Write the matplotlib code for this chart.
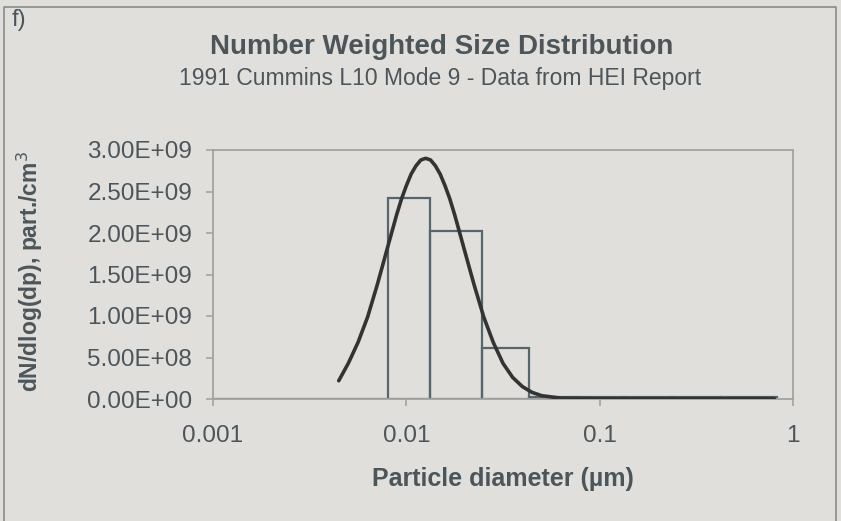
import numpy as np
import matplotlib.pyplot as plt
from matplotlib.ticker import FuncFormatter, NullLocator

plt.rcParams['font.family'] = ['Liberation Sans', 'DejaVu Sans']

# histogram bins (um) and dN/dlog(dp) values
bin_edges = [0.008, 0.0132, 0.0245, 0.043, 0.075, 0.133, 0.237, 0.422, 0.83]
bin_counts = [2.42e9, 2.02e9, 6.1e8, 3.0e7, 2.5e7, 2.5e7, 2.0e7, 2.0e7]

# fitted curve
fit_dp = [0.00447, 0.00501, 0.00562, 0.00631, 0.00708, 0.0075, 0.00794, 0.00841,
          0.00891, 0.00944, 0.0100, 0.01059, 0.01122, 0.01189, 0.01259, 0.01334,
          0.01413, 0.01496, 0.01585, 0.01679, 0.01778, 0.01884, 0.01995, 0.02113,
          0.02239, 0.02512, 0.02818, 0.03162, 0.03548, 0.03981, 0.04467, 0.05012,
          0.0631, 0.1, 0.3, 0.8]
fit_n = [0.22e9, 0.43e9, 0.68e9, 0.99e9, 1.38e9, 1.59e9, 1.80e9, 2.01e9,
         2.22e9, 2.41e9, 2.57e9, 2.71e9, 2.81e9, 2.88e9, 2.90e9, 2.88e9,
         2.81e9, 2.71e9, 2.57e9, 2.41e9, 2.22e9, 2.01e9, 1.80e9, 1.59e9,
         1.38e9, 0.99e9, 0.68e9, 0.43e9, 0.26e9, 0.15e9, 0.08e9, 0.04e9,
         0.01e9, 0.005e9, 0.005e9, 0.005e9]

x_ticks = [0.001, 0.01, 0.1, 1]
x_tick_labels = ['0.001', '0.01', '0.1', '1']

bg = '#e1dfdc'
txt = '#4b555a'
bar_c = '#56666d'
curve_c = '#333333'
grey = '#a3a3a3'

fig = plt.figure(figsize=(8.41, 5.21), dpi=100)
fig.patch.set_facecolor(bg)

# outer chart border
fig.add_artist(plt.Line2D([4/841, 4/841, 836/841, 836/841], [-0.01, 1-7/521, 1-7/521, -0.01],
                          transform=fig.transFigure, color='#8a8a8a', lw=1.2))

ax = fig.add_axes([213/841, 1-399/521, 580/841, 249/521])
ax.set_facecolor(bg)

widths = np.diff(bin_edges)
ax.bar(bin_edges[:-1], bin_counts, width=widths, align='edge', fill=False,
       edgecolor=bar_c, linewidth=1.6, zorder=2)
ax.plot([0.001, bin_edges[0]], [0, 0], color=bar_c, lw=1.6, zorder=2)
ax.plot(fit_dp, fit_n, color=curve_c, lw=2.6, zorder=3, solid_capstyle='round',
        solid_joinstyle='round')

ax.set_xscale('log')
ax.set_xlim(0.001, 1)
ax.set_ylim(0, 3e9)
ax.set_xticks(x_ticks)
ax.set_xticklabels(x_tick_labels)
ax.xaxis.set_minor_locator(NullLocator())
ax.set_yticks(np.arange(0, 3.01e9, 5e8))
ax.yaxis.set_major_formatter(FuncFormatter(lambda v, p: f"{v:.2E}"))

for s in ax.spines.values():
    s.set_color(grey)
    s.set_linewidth(1.3)
ax.tick_params(axis='both', colors=grey, labelcolor=txt, labelsize=17.5, length=5, width=1.2,
               direction='out')
ax.tick_params(axis='y', pad=10)
ax.tick_params(axis='x', pad=14)

ax.set_xlabel('Particle diameter (\u00b5m)', fontsize=18, fontweight='bold', color=txt,
              labelpad=14)
fig.text(30/841, 1-272/521, 'dN/dlog(dp), part./cm$^3$', rotation=90, ha='center',
         va='center', fontsize=16.5, fontweight='bold', color=txt)

fig.text(442/841, 1-47/521, 'Number Weighted Size Distribution', ha='center', va='center',
         fontsize=20, fontweight='bold', color=txt)
fig.text(440/841, 1-79/521, '1991 Cummins L10 Mode 9 - Data from HEI Report', ha='center',
         va='center', fontsize=16.5, color=txt)
fig.text(12/841, 1-20/521, 'f)', ha='left', va='center', fontsize=17, color=txt)

plt.savefig('out.png', dpi=100, facecolor=bg)
